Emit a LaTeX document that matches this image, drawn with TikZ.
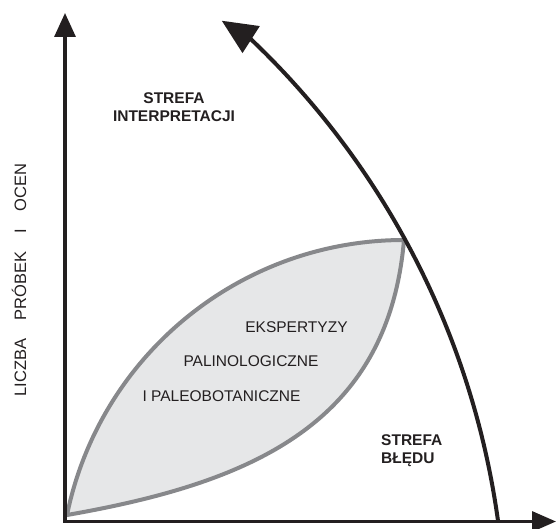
\documentclass[tikz,border=0pt]{standalone}
\usepackage{fontspec}
\setmainfont{Liberation Sans}
\usetikzlibrary{arrows.meta}
\definecolor{ink}{HTML}{231F20}
\definecolor{lensline}{HTML}{87888B}
\definecolor{lensfill}{HTML}{E6E7E8}
\begin{document}
\begin{tikzpicture}[x=1pt,y=1pt,
  axis/.style={draw=ink, line width=3.3pt, line join=miter},
  zone/.style={font=\fontsize{15.5}{18.5}\selectfont\bfseries, text=ink, inner sep=0pt},
  lenstext/.style={font=\fontsize{15.5}{18}\selectfont, text=ink, inner sep=0pt},
  axislabel/.style={font=\fontsize{16.5}{18}\selectfont, text=ink, inner sep=0pt},
  ]
\useasboundingbox (0,0) rectangle (556,528);

% key points
\coordinate (corner) at (65,6.5);
\coordinate (ytip) at (65,515);
\coordinate (xtip) at (556,6.5);
\coordinate (lensA) at (67,13);
\coordinate (lensB) at (404,288);
\coordinate (arcstart) at (498.1,6.4);
\coordinate (headtip) at (221.7,507.3);

% shaded lens between the two bounding curves
\draw[draw=lensline, fill=lensfill, line width=4pt, line join=miter]
  (lensA) .. controls (99.8,173) and (240.7,288) .. (lensB)
          .. controls (388,103) and (250,45) .. (lensA) -- cycle;

% axes
\draw[axis, {Triangle[length=24pt,width=21pt]}-{Triangle[length=24pt,width=20pt]}]
  (ytip) -- (corner) -- (xtip);

% curved boundary arrow
\draw[ink, line width=4pt, -{Triangle[length=35pt,width=31pt]}]
  (arcstart) arc[start angle=7.8, end angle=46.4, radius=818.7] -- (headtip);

% labels
\node[zone, align=center] (interp) at (174,421) {STREFA\\INTERPRETACJI};
\node[zone, align=left, anchor=west] (error) at (381,77.5) {STREFA\\BŁĘDU};
\node[lenstext] (l1) at (296.5,201) {EKSPERTYZY};
\node[lenstext] (l2) at (251,167) {PALINOLOGICZNE};
\node[lenstext] (l3) at (221.5,132) {I PALEOBOTANICZNE};
\node[axislabel, rotate=90] (ylabel) at (19,248)
  {LICZBA\hspace{18pt}PRÓBEK\hspace{18pt}I\hspace{18pt}OCEN};
\end{tikzpicture}
\end{document}
